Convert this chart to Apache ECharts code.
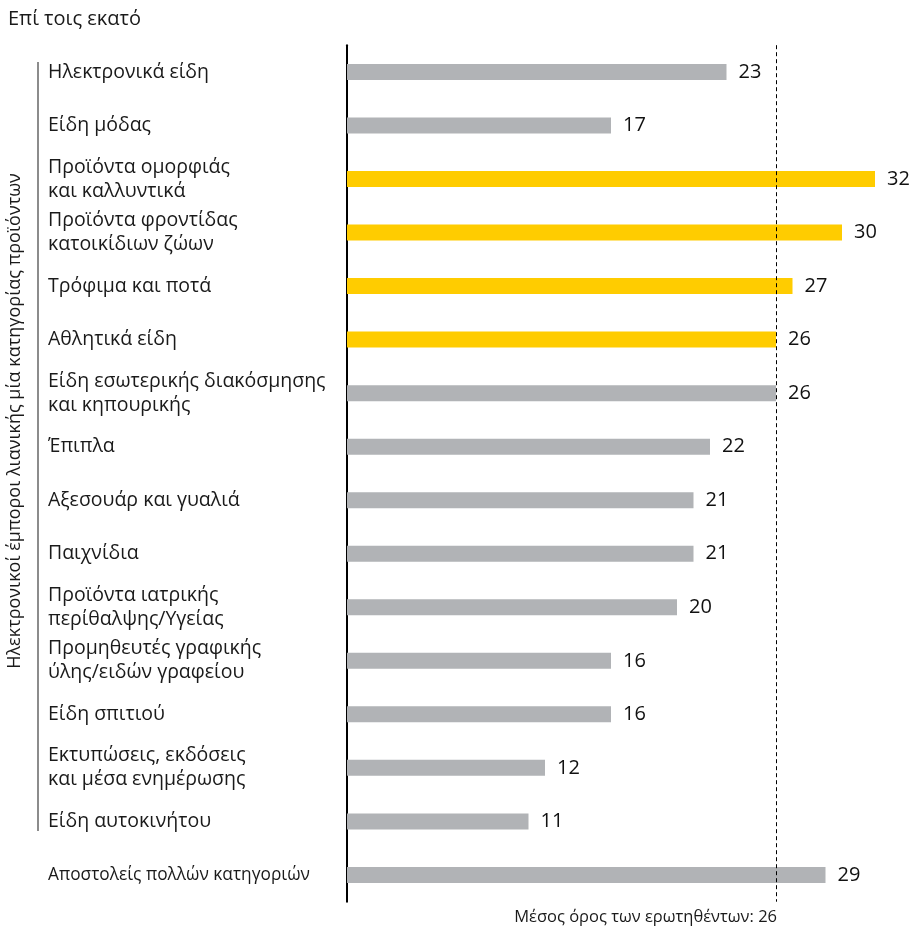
<!DOCTYPE html>
<html><head><meta charset="utf-8">
<script src="https://cdn.jsdelivr.net/npm/echarts@6/dist/echarts.min.js"></script>
<style>html,body{margin:0;padding:0;background:#fff}#c{width:910px;height:929px}</style>
</head><body><div id="c"></div>
<script>
const categories = [
  'Ηλεκτρονικά είδη',
  'Είδη μόδας',
  'Προϊόντα ομορφιάς\nκαι καλλυντικά',
  'Προϊόντα φροντίδας\nκατοικίδιων ζώων',
  'Τρόφιμα και ποτά',
  'Αθλητικά είδη',
  'Είδη εσωτερικής διακόσμησης\nκαι κηπουρικής',
  'Έπιπλα',
  'Αξεσουάρ και γυαλιά',
  'Παιχνίδια',
  'Προϊόντα ιατρικής\nπερίθαλψης/Υγείας',
  'Προμηθευτές γραφικής\nύλης/ειδών γραφείου',
  'Είδη σπιτιού',
  'Εκτυπώσεις, εκδόσεις\nκαι μέσα ενημέρωσης',
  'Είδη αυτοκινήτου',
  'Αποστολείς πολλών κατηγοριών'
];
// printed value labels
const valueLabels = [23, 17, 32, 30, 27, 26, 26, 22, 21, 21, 20, 16, 16, 12, 11, 29];
// bar lengths as drawn in the picture (the "17" bar is drawn to 16)
const values = [23, 16, 32, 30, 27, 26, 26, 22, 21, 21, 20, 16, 16, 12, 11, 29];
const highlighted = [false, false, true, true, true, true, false, false, false, false, false, false, false, false, false, false];
const average = 26;
const unitLabel = 'Επί τοις εκατό';
const groupLabel = 'Ηλεκτρονικοί έμποροι λιανικής μία κατηγορίας προϊόντων';
const averageLabel = 'Μέσος όρος των ερωτηθέντων: ' + average;

const FONT = 'Open Sans';
const GRAY = '#b1b3b6', YELLOW = '#ffcc00';

const chart = echarts.init(document.getElementById('c'), null, {renderer: 'canvas'});
chart.setOption({
  animation: false,
  textStyle: {fontFamily: FONT},
  grid: {left: 347, top: 45.2, width: 561, height: 856.5, containLabel: false},
  xAxis: {type: 'value', min: 0, max: 34, show: false, splitLine: {show: false}},
  yAxis: {
    type: 'category', inverse: true, data: categories,
    axisLine: {show: true, lineStyle: {color: '#000', width: 2}},
    axisTick: {show: false},
    axisLabel: {
      margin: 299, align: 'left', fontFamily: FONT, fontSize: 19.5, color: '#1a1a1a', lineHeight: 24,
      formatter: (v, i) => i === categories.length - 1 ? '{s|' + v + '}' : v,
      rich: {s: {fontSize: 17.3, fontFamily: FONT, color: '#1a1a1a'}}
    }
  },
  series: [{
    type: 'bar', barWidth: 16,
    data: values.map((v, i) => ({value: v, itemStyle: {color: highlighted[i] ? YELLOW : GRAY}})),
    label: {show: true, position: 'right', distance: 12, fontFamily: FONT, fontSize: 20, fontWeight: 500, color: '#111',
            formatter: p => String(valueLabels[p.dataIndex])},
    markLine: {
      silent: true, symbol: 'none', z: 10,
      lineStyle: {type: [4, 3], color: '#000', width: 1},
      label: {show: false},
      data: [{xAxis: average}]
    }
  }],
  graphic: [
    {type: 'text', left: 8, top: 9, style: {text: unitLabel, fontFamily: FONT, fontSize: 20, fill: '#1a1a1a'}},
    {type: 'line', shape: {x1: 38, y1: 62, x2: 38, y2: 831}, style: {stroke: '#666', lineWidth: 1.5}},
    {type: 'text', x: 15, y: 421, rotation: Math.PI / 2,
     style: {text: groupLabel, fontFamily: FONT, fontSize: 18, fill: '#1a1a1a', align: 'center', verticalAlign: 'middle'}},
    {type: 'text', x: 777, y: 917,
     style: {text: averageLabel, fontFamily: FONT, fontSize: 16.5, fill: '#1a1a1a', align: 'right', verticalAlign: 'middle'}}
  ]
});
</script></body></html>
